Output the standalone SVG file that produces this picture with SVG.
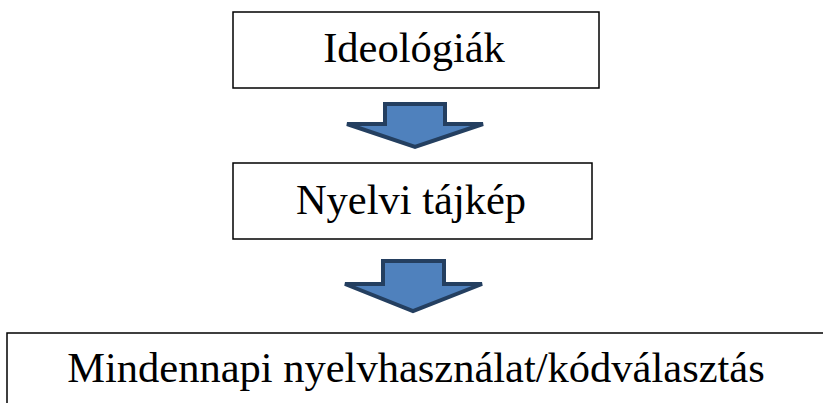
<svg xmlns="http://www.w3.org/2000/svg" width="823" height="403" viewBox="0 0 823 403">
<defs>
<style>
.box{fill:#fff;stroke:#000;stroke-width:1.5}
.lbl{font-family:"Liberation Serif","Times New Roman",serif;font-size:42.5px;fill:#000;text-anchor:middle}
.arr{fill:#4F81BD;stroke:#243F60;stroke-width:4;stroke-linejoin:miter}
</style>
</defs>
<rect width="823" height="403" fill="#fff"/>
<g id="node-ideologiak">
<rect class="box" x="233" y="12" width="366" height="76"/>
<text class="lbl" x="414" y="62">Ideológiák</text>
</g>
<g id="node-nyelvi-tajkep">
<rect class="box" x="233" y="163" width="359" height="76"/>
<text class="lbl" x="411" y="214">Nyelvi tájkép</text>
</g>
<g id="node-mindennapi">
<rect class="box" x="7" y="333" width="830" height="90"/>
<text class="lbl" x="416" y="382">Mindennapi nyelvhasználat/kódválasztás</text>
</g>
<g id="connectors">
<polygon class="arr" points="385,104 445,104 445,124 483,124 415,147 347,124 385,124"/>
<polygon class="arr" points="383,261 444,261 444,284 482,284 413,311 345,284 383,284"/>
</g>
</svg>
